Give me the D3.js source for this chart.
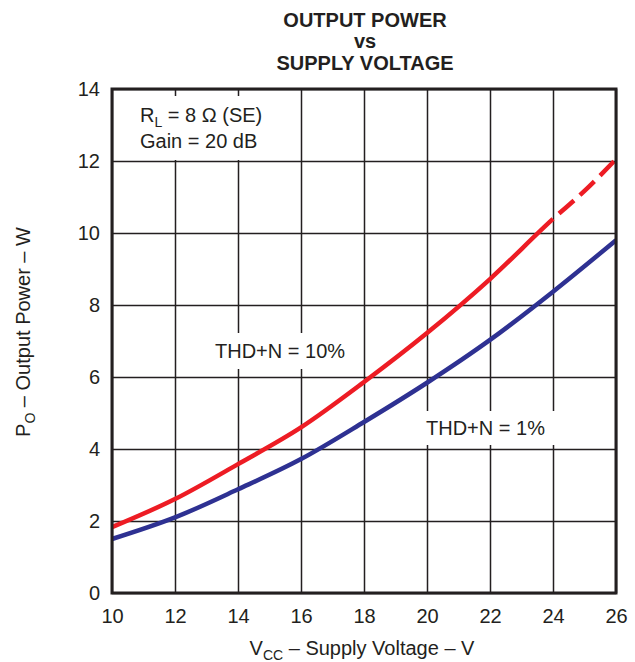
<!DOCTYPE html>
<html>
<head>
<meta charset="utf-8" />
<title>Output Power vs Supply Voltage</title>
<style>
body { margin: 0; background: #fff; }
#graph { width: 635px; height: 662px; }
svg text { font-family: "Liberation Sans", Arial, sans-serif; fill: #231f20; }
.grid line { stroke: #231f20; stroke-width: 1.5; }
.grid .domain { display: none; }
.grid text { font-size: 20px; }
</style>
</head>
<body>
<div id="graph"></div>
<script src="https://cdnjs.cloudflare.com/ajax/libs/d3/7.8.5/d3.min.js"></script>
<script>
// values
var xTicks = [10, 12, 14, 16, 18, 20, 22, 24, 26]
var yTicks = [0, 2, 4, 6, 8, 10, 12, 14]

// THD+N = 10%, measured up to 24 V, extrapolated (dashed) beyond
var thd10Vcc = [10, 12, 14, 16, 18, 20, 22, 24, 25, 26]
var thd10Po = [1.83, 2.61, 3.58, 4.6, 5.86, 7.22, 8.72, 10.39, 11.17, 12.05]
var thd10SolidEnd = 24

var thd1Vcc = [10, 12, 14, 16, 18, 20, 22, 24, 26]
var thd1Po = [1.5, 2.1, 2.88, 3.72, 4.75, 5.84, 7.03, 8.37, 9.8]

!(function(){
    "use strict"

    var width = 635, height = 662
    var margin = {top: 89, left: 112, right: 19, bottom: 69}
    var chartWidth = width - margin.left - margin.right
    var chartHeight = height - margin.top - margin.bottom

    var svg = d3.select("#graph").append("svg")
        .attr("width", width).attr("height", height)

    var xScale = d3.scaleLinear().domain([10, 26]).range([0, chartWidth])
    var yScale = d3.scaleLinear().domain([0, 14]).range([chartHeight, 0])

    var chart = svg.append("g")
        .attr("transform", "translate(" + [margin.left, margin.top] + ")")

    // grid via axes
    chart.append("g").attr("class", "grid x")
        .attr("transform", "translate(0," + chartHeight + ")")
        .call(d3.axisBottom(xScale).tickValues(xTicks).tickSizeInner(-chartHeight).tickSizeOuter(0).tickPadding(16))
    chart.append("g").attr("class", "grid y")
        .call(d3.axisLeft(yScale).tickValues(yTicks).tickSizeInner(-chartWidth).tickSizeOuter(0).tickPadding(12))

    // white boxes behind labels cut the grid
    var labels = chart.append("g")

    function boxed(node, pad) {
        var b = node.getBBox()
        labels.insert("rect", ":first-child")
            .attr("x", b.x - pad[0]).attr("y", b.y - pad[1])
            .attr("width", b.width + 2 * pad[0]).attr("height", b.height + 2 * pad[1])
            .attr("fill", "#fff")
    }

    var note = labels.append("g")
    var t1 = note.append("text").attr("x", 140 - margin.left).attr("y", 122 - margin.top).style("font-size", "20px")
    t1.append("tspan").text("R")
    t1.append("tspan").attr("dy", 5).style("font-size", "14px").text("L")
    t1.append("tspan").attr("dy", -5).text(" = 8 \u03A9 (SE)")
    note.append("text").attr("x", 140 - margin.left).attr("y", 148 - margin.top)
        .style("font-size", "20px").text("Gain = 20 dB")
    boxed(note.node(), [10, 8])

    var l10 = labels.append("text").attr("x", 215 - margin.left).attr("y", 358 - margin.top)
        .style("font-size", "20px").text("THD+N = 10%")
    boxed(l10.node(), [10, 7])

    var l1 = labels.append("text").attr("x", 426 - margin.left).attr("y", 435 - margin.top)
        .style("font-size", "20px").text("THD+N = 1%")
    boxed(l1.node(), [10, 6])

    labels.selectAll("text").raise()

    // curves
    var line = d3.line()
        .x(function(d){ return xScale(d[0]) })
        .y(function(d){ return yScale(d[1]) })
        .curve(d3.curveMonotoneX)

    chart.append("path").datum(d3.zip(thd1Vcc, thd1Po))
        .attr("d", line).attr("fill", "none")
        .attr("stroke", "#2e3192").attr("stroke-width", 4.5)

    var red = chart.append("path").datum(d3.zip(thd10Vcc, thd10Po))
        .attr("d", line).attr("fill", "none")
        .attr("stroke", "#ed1c24").attr("stroke-width", 4.5)

    // solid up to the last measured point, dashed after it
    var node = red.node()
    var total = node.getTotalLength()
    var xEnd = xScale(thd10SolidEnd)
    var lo = 0, hi = total
    for (var i = 0; i < 40; i++) {
        var mid = (lo + hi) / 2
        if (node.getPointAtLength(mid).x < xEnd) lo = mid; else hi = mid
    }
    var dashes = [lo]
    var run = lo
    while (run < total) { dashes.push(8, 20); run += 28 }
    red.attr("stroke-dasharray", dashes.join(","))

    // frame
    chart.append("rect")
        .attr("width", chartWidth).attr("height", chartHeight)
        .attr("fill", "none").attr("stroke", "#231f20").attr("stroke-width", 3)

    // title
    var title = svg.append("text").attr("text-anchor", "middle")
        .style("font-size", "20px").style("font-weight", "bold")
    title.append("tspan").attr("x", 365).attr("y", 27).text("OUTPUT POWER")
    title.append("tspan").attr("x", 365).attr("y", 48).text("vs")
    title.append("tspan").attr("x", 365).attr("y", 70).text("SUPPLY VOLTAGE")

    // axis titles
    var xl = svg.append("text").attr("text-anchor", "middle")
        .attr("x", 362).attr("y", 655).style("font-size", "20px")
    xl.append("tspan").text("V")
    xl.append("tspan").attr("dy", 5).style("font-size", "14px").text("CC")
    xl.append("tspan").attr("dy", -5).text(" \u2013 Supply Voltage \u2013 V")

    var yl = svg.append("text").attr("text-anchor", "middle")
        .attr("transform", "translate(30,332) rotate(-90)").style("font-size", "20px")
    yl.append("tspan").text("P")
    yl.append("tspan").attr("dy", 5).style("font-size", "14px").text("O")
    yl.append("tspan").attr("dy", -5).text(" \u2013 Output Power \u2013 W")

}());
</script>
</body>
</html>
